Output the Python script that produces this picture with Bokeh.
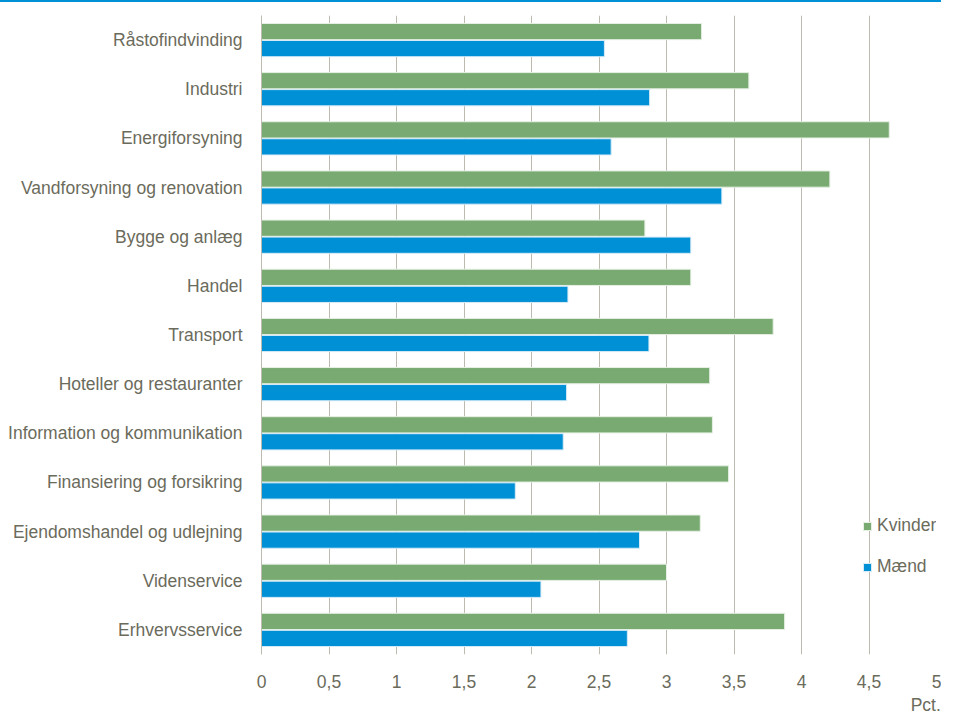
from bokeh.plotting import figure
from bokeh.models import (Range1d, FixedTicker, CustomJSTickFormatter, Legend, LegendItem,
                          ColumnDataSource, LinearAxis, Div)
from bokeh.layouts import column
from bokeh.embed import file_html
from bokeh.resources import INLINE

categories = ["Råstofindvinding", "Industri", "Energiforsyning", "Vandforsyning og renovation",
              "Bygge og anlæg", "Handel", "Transport", "Hoteller og restauranter",
              "Information og kommunikation", "Finansiering og forsikring",
              "Ejendomshandel og udlejning", "Videnservice", "Erhvervsservice"]
kvinder = [3.26, 3.61, 4.65, 4.21, 2.84, 3.18, 3.79, 3.32, 3.34, 3.46, 3.25, 3.00, 3.875]
maend = [2.54, 2.875, 2.59, 3.41, 3.18, 2.27, 2.87, 2.26, 2.235, 1.88, 2.80, 2.07, 2.71]
x_ticks = [0, 0.5, 1, 1.5, 2, 2.5, 3, 3.5, 4, 4.5, 5]
unit_label = "Pct."

GREEN = "#78AA71"
BLUE = "#0090D5"
TEXT = "#6B6B5C"
GRID = "#BDBAAF"
FONT = "Liberation Sans"
FS = "17.5px"

n = len(categories)
ypos = [n - 1 - i for i in range(n)]
src = ColumnDataSource(dict(cat=categories, y=ypos, k=kvinder, m=maend,
                            yk=[v + 0.173 for v in ypos], ym=[v - 0.173 for v in ypos]))

p = figure(width=941, height=716, output_backend="svg", toolbar_location=None,
           x_range=Range1d(0, 5), y_range=Range1d(-0.5, n - 0.5),
           min_border_left=261, min_border_right=5, min_border_top=13, min_border_bottom=64)
p.outline_line_color = None
p.background_fill_color = "white"

rk = p.hbar(y="yk", right="k", left=0, height=0.33, source=src, fill_color=GREEN,
            line_color="#E6F0E4", line_width=1)
rm = p.hbar(y="ym", right="m", left=0, height=0.33, source=src, fill_color=BLUE,
            line_color="#D8ECF7", line_width=1)

p.xaxis.ticker = FixedTicker(ticks=x_ticks)
p.xaxis.formatter = CustomJSTickFormatter(code="return tick.toString().replace('.', ',');")
p.xaxis.axis_line_color = None
p.xaxis.major_tick_line_color = None
p.xaxis.minor_tick_line_color = None
p.xaxis.major_tick_out = 0
p.xaxis.minor_tick_out = 0
p.xaxis.major_label_text_font = FONT
p.xaxis.major_label_text_font_size = FS
p.xaxis.major_label_text_color = TEXT
p.xaxis.major_label_standoff = 20

# second axis below, carrying only the unit label
unit_axis = LinearAxis(ticker=FixedTicker(ticks=[4.92]),
                       formatter=CustomJSTickFormatter(code="return '%s';" % unit_label),
                       axis_line_color=None, major_tick_line_color=None,
                       minor_tick_line_color=None, major_tick_out=0, minor_tick_out=0,
                       major_label_text_font=FONT, major_label_text_font_size=FS,
                       major_label_text_color=TEXT, major_label_standoff=4)
p.add_layout(unit_axis, "below")

p.yaxis.ticker = FixedTicker(ticks=ypos)
p.yaxis.major_label_overrides = {ypos[i]: categories[i] for i in range(n)}
p.yaxis.axis_line_color = GRID
p.yaxis.major_tick_line_color = None
p.yaxis.minor_tick_line_color = None
p.yaxis.major_tick_out = 0
p.yaxis.minor_tick_out = 0
p.yaxis.major_label_text_font = FONT
p.yaxis.major_label_text_font_size = FS
p.yaxis.major_label_text_color = TEXT
p.yaxis.major_label_standoff = 19

p.xgrid.ticker = FixedTicker(ticks=x_ticks)
p.xgrid.grid_line_color = GRID
p.ygrid.grid_line_color = None

legend = Legend(items=[LegendItem(label="Kvinder", renderers=[rk]),
                       LegendItem(label="Mænd", renderers=[rm])],
                location=(601, 77), border_line_color=None, background_fill_alpha=0,
                label_text_font=FONT, label_text_font_size=FS, label_text_color=TEXT,
                glyph_width=10, glyph_height=10, label_standoff=5, spacing=20,
                label_height=20, padding=0, margin=0)
p.add_layout(legend)

top = Div(text="", width=941, height=2, margin=0, styles={"background-color": BLUE})
layout = column(top, p, spacing=0)

open("out.html", "w").write(file_html(layout, INLINE))
